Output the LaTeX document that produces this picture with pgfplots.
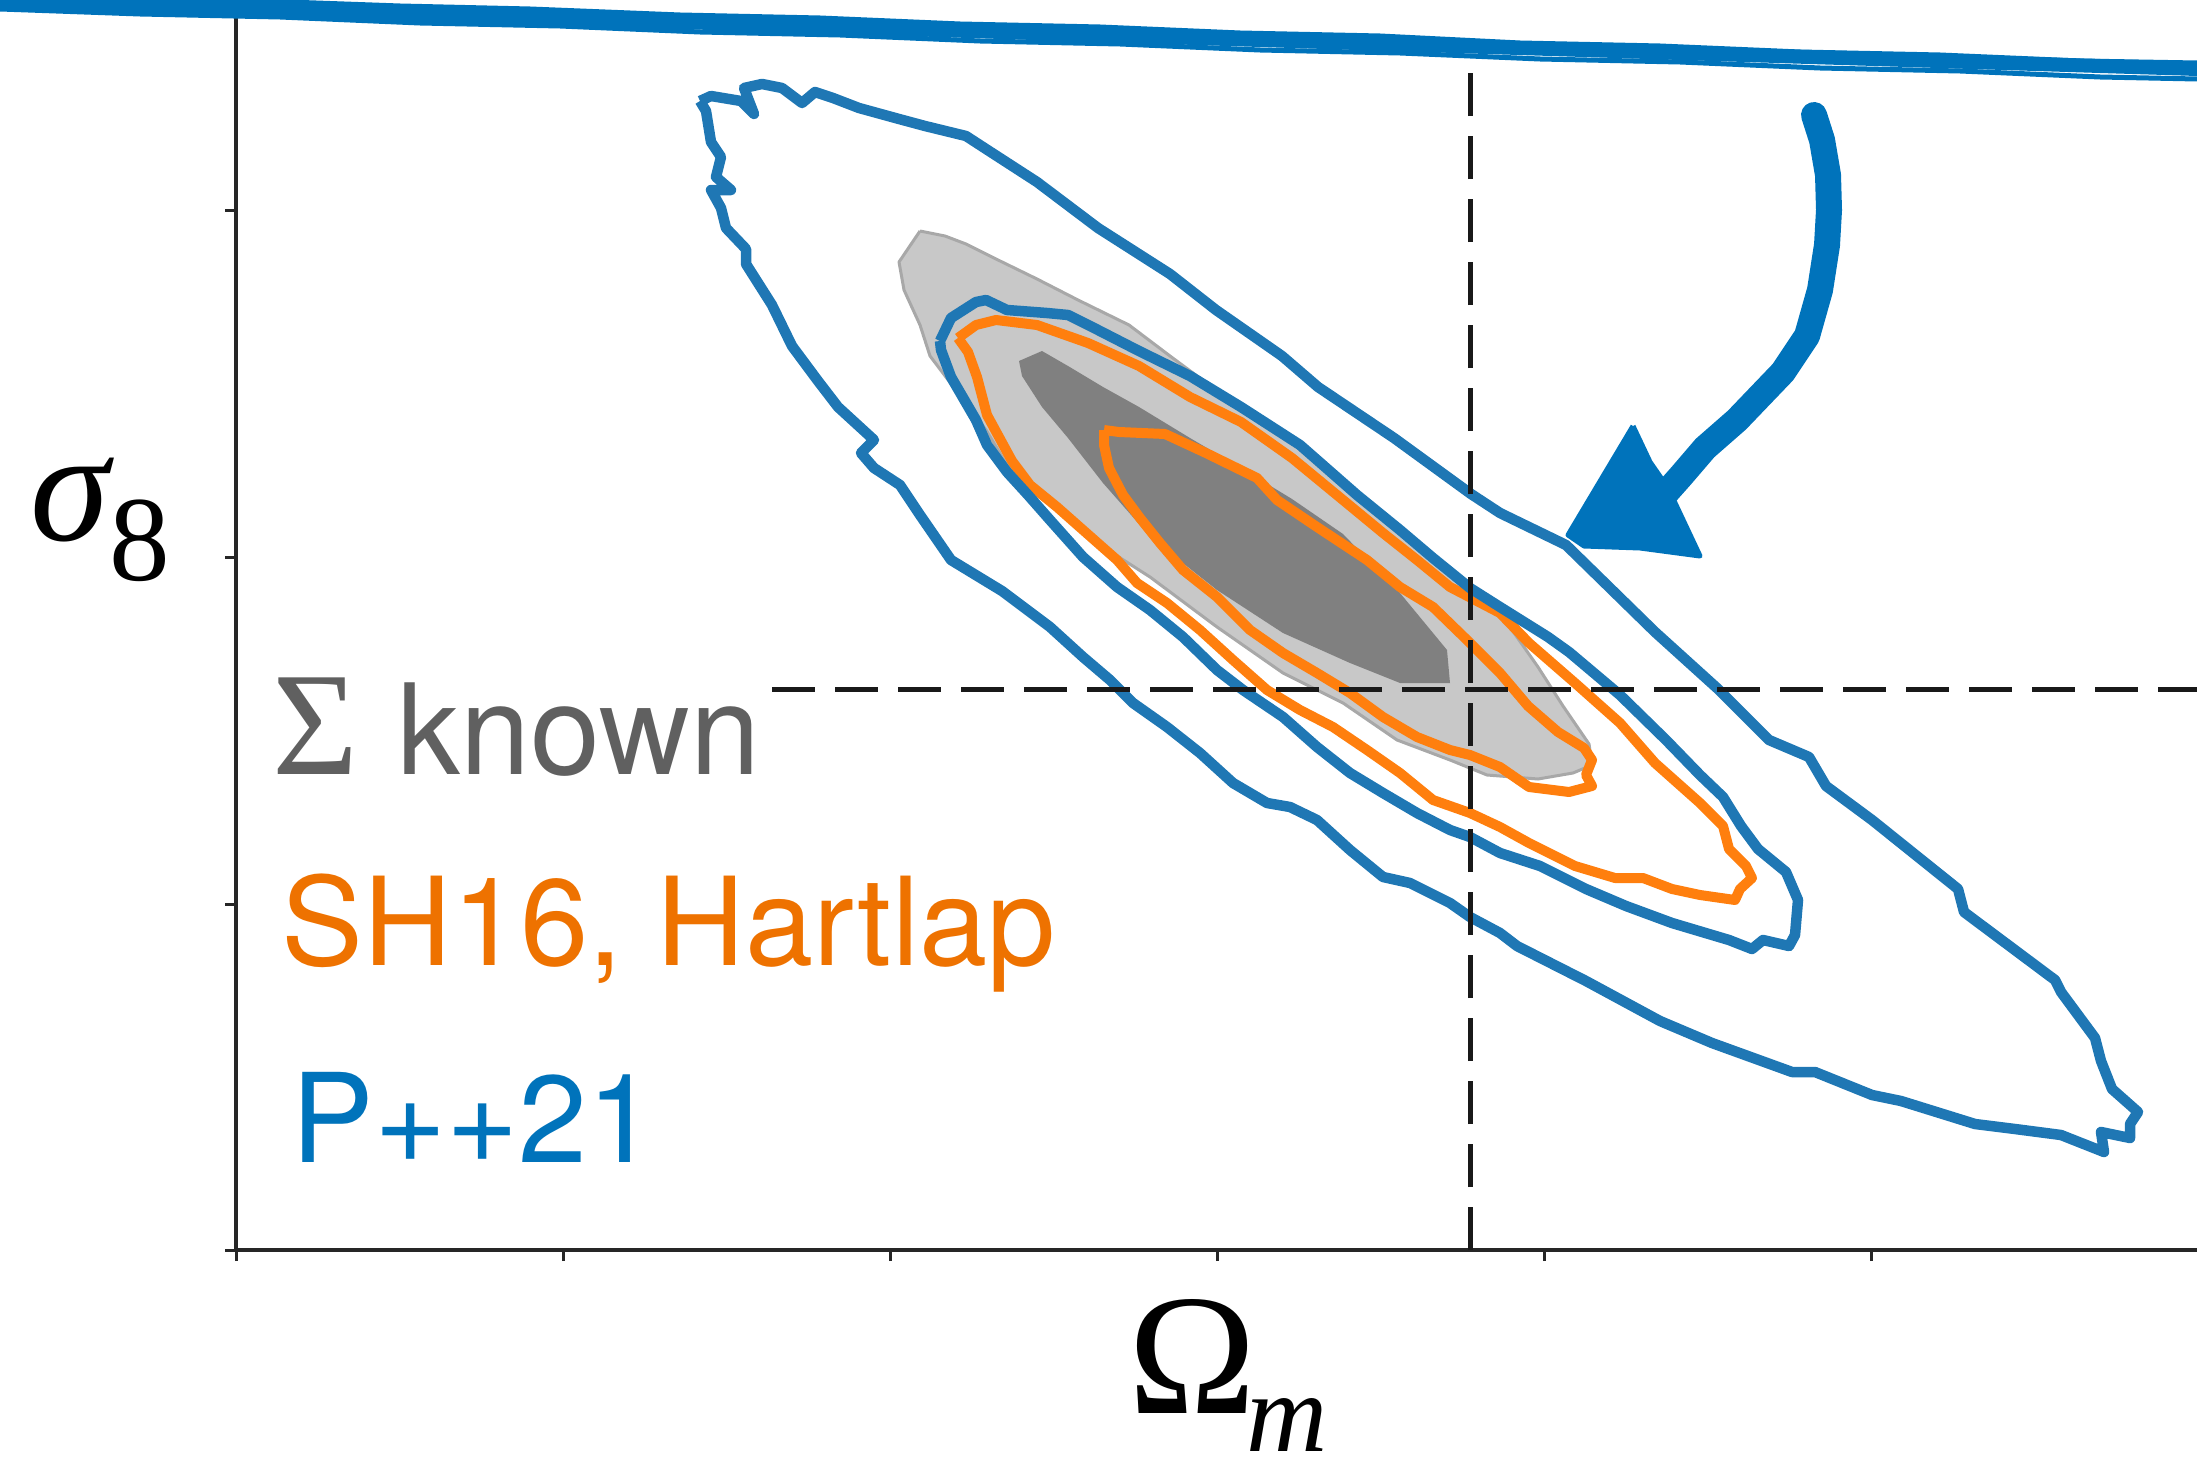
\documentclass[border=0pt]{standalone}
\usepackage{fontspec}
\usepackage{pgfplots}
\pgfplotsset{compat=1.18}
\setmainfont{TeX Gyre Heros}
\newfontfamily\serifL{Liberation Serif}
\definecolor{cBlue}{RGB}{31,119,180}
\definecolor{cOrange}{RGB}{255,127,14}
\definecolor{tBlue}{RGB}{0,115,187}
\definecolor{tOrange}{RGB}{238,114,0}
\definecolor{tGray}{RGB}{96,96,96}
\definecolor{lGray}{RGB}{200,200,200}
\definecolor{lEdge}{RGB}{168,168,168}
\definecolor{dGray}{RGB}{128,128,128}
\definecolor{scrib}{RGB}{0,115,187}
\begin{document}
\begin{tikzpicture}
\path[use as bounding box] (0,0) rectangle (219.7mm,145.8mm);
\clip (0,0) rectangle (219.7mm,145.8mm);
\begin{axis}[
  at={(23.6mm,20.8mm)}, anchor=south west,
  scale only axis, width=196.1mm, height=125mm,
  xmin=236, xmax=2197, ymin=0, ymax=1250, y dir=reverse,
  axis x line*=bottom, axis y line*=left,
  axis line style={black!85, line width=0.35mm},
  xtick={236,563,890,1217,1544,1871}, ytick={210,557,904,1250},
  xticklabels={}, yticklabels={},
  tick align=outside, major tick length=1.1mm,
  tick style={black!85, line width=0.3mm},
  clip=false, no markers,
  xlabel={\serifL\fontsize{49}{50}\selectfont Ω\kern-1mm\raisebox{-3.8mm}{\fontsize{32}{33}\selectfont\itshape m}},
  every axis x label/.style={at={(axis cs:1128,1413)}, anchor=base west, inner sep=0pt},
  ylabel={\serifL\fontsize{45.5}{46}\selectfont{\itshape σ}\raisebox{-4mm}{\fontsize{34.5}{35}\selectfont 8}},
  every axis y label/.style={at={(axis cs:30,540)}, anchor=base west, inner sep=0pt},
]
% Sigma known, 95% region (light gray)
\addplot[fill=lGray, draw=lEdge, line width=0.3mm, line join=round] coordinates {
(920,231)(945,236)(966,244)(996,259)(1037,279)(1078,300)(1129,325)(1170,356)(1216,390)(1260,418)(1300,445)(1357,495)(1400,530)(1433,558)(1470,590)(1500,612)(1512,630)(1538,667)(1563,706)(1589,744)(1592,765)(1573,773)(1538,779)(1487,775)(1450,760)(1397,740)(1343,703)(1283,673)(1217,627)(1150,577)(1100,545)(1057,510)(1037,495)(1007,465)(986,430)(955,389)(930,356)(920,325)(904,290)(899,262)(920,231)
};
% Sigma known, 68% region (dark gray)
\addplot[fill=dGray, draw=none] coordinates {
(1019,361)(1042,351)(1068,366)(1103,387)(1139,407)(1190,438)(1241,468)(1292,499)(1343,534)(1400,593)(1433,633)(1447,650)(1450,683)(1400,683)(1350,663)(1283,633)(1217,590)(1160,545)(1139,524)(1103,483)(1068,438)(1042,407)(1022,376)(1019,361)
};
% SH16, Hartlap 95%
\addplot[cOrange, line width=1.0mm, line join=round] coordinates {
(958,338)(976,325)(996,320)(1037,325)(1088,343)(1139,366)(1190,397)(1241,422)(1292,458)(1343,500)(1383,533)(1417,560)(1450,587)(1500,613)(1529,643)(1575,683)(1620,723)(1655,763)(1700,803)(1723,826)(1729,849)(1746,866)(1752,878)(1740,889)(1735,900)(1700,895)(1672,889)(1643,878)(1615,878)(1575,866)(1529,843)(1500,827)(1470,813)(1433,800)(1400,773)(1367,750)(1333,727)(1300,710)(1267,690)(1233,660)(1200,630)(1167,603)(1137,583)(1117,560)(1083,530)(1057,507)(1030,485)(1012,461)(987,415)(977,377)(968,352)(958,338)
};
% SH16, Hartlap 68%
\addplot[cOrange, line width=1.0mm, line join=round] coordinates {
(1104,430)(1119,432)(1165,434)(1206,453)(1257,478)(1277,500)(1317,527)(1367,560)(1400,587)(1433,607)(1467,640)(1500,673)(1528,706)(1558,732)(1584,748)(1592,760)(1586,775)(1592,786)(1569,792)(1529,787)(1500,767)(1470,755)(1450,750)(1417,737)(1383,717)(1350,693)(1317,673)(1283,653)(1250,630)(1217,597)(1183,570)(1160,543)(1140,518)(1123,495)(1109,468)(1104,445)(1104,430)
};
% P++21 68%
\addplot[cBlue, line width=1.05mm, line join=round] coordinates {
(940,341)(951,318)(976,302)(986,300)(1007,310)(1047,313)(1068,315)(1098,330)(1139,351)(1190,376)(1241,407)(1300,445)(1357,495)(1400,530)(1433,558)(1470,588)(1500,607)(1548,637)(1569,652)(1620,695)(1666,740)(1700,775)(1723,797)(1741,826)(1758,849)(1786,872)(1798,900)(1795,935)(1789,946)(1763,940)(1752,949)(1729,940)(1672,923)(1626,906)(1586,889)(1540,866)(1500,853)(1470,837)(1450,830)(1417,813)(1383,793)(1350,773)(1317,747)(1283,717)(1243,690)(1217,670)(1183,637)(1150,610)(1117,587)(1083,557)(1050,520)(1028,495)(1007,472)(987,445)(976,420)(951,377)(941,350)(940,341)
};
% P++21 95%
\addplot[cBlue, line width=1.05mm, line join=round] coordinates {
(700,101)(711,96)(741,101)(754,114)(744,88)(762,84)(782,88)(802,103)(815,92)(833,98)(859,108)(899,119)(925,126)(966,136)(986,149)(1037,182)(1098,228)(1170,274)(1216,310)(1282,356)(1318,387)(1394,438)(1471,494)(1500,513)(1566,545)(1655,632)(1718,689)(1769,740)(1809,757)(1826,786)(1872,820)(1958,889)(1964,912)(2055,980)(2061,992)(2095,1038)(2101,1061)(2112,1089)(2138,1112)(2130,1124)(2130,1138)(2101,1132)(2104,1152)(2061,1135)(2015,1129)(1975,1124)(1901,1101)(1872,1095)(1815,1072)(1792,1072)(1712,1043)(1660,1021)(1586,981)(1517,946)(1500,933)(1470,917)(1450,903)(1410,883)(1383,877)(1350,850)(1317,820)(1290,807)(1267,803)(1233,783)(1200,753)(1167,727)(1133,703)(1110,680)(1083,657)(1050,627)(1002,591)(951,560)(920,515)(900,485)(874,468)(861,453)(874,440)(838,407)(818,381)(792,346)(772,305)(746,264)(746,249)(726,228)(721,208)(711,190)(731,190)(716,177)(721,157)(711,142)(706,111)(700,101)
};
% fiducial values
\addplot[black!90, line width=0.5mm, dash pattern=on 4.3mm off 2.0mm] coordinates {(1470,1250) (1470,52)};
\addplot[black!90, line width=0.5mm, dash pattern=on 4.3mm off 2.0mm] coordinates {(772,689) (2197,689)};
% hand-drawn annotation
\addplot[scrib, line width=1.4mm, line cap=round] coordinates {(0,1) (2197,69)};
\addplot[scrib, line width=0.5mm] coordinates {(0,-7)(120,-3)(260,1)(400,6)(530,9)(680,15)(820,18)(960,24)(1100,27)(1240,33)(1380,36)(1520,43)(1660,46)(1800,52)(1940,55)(2080,61)(2197,63)};
\addplot[scrib, line width=0.5mm] coordinates {(0,9)(140,14)(280,17)(420,23)(560,26)(700,32)(840,35)(980,41)(1120,44)(1260,50)(1400,53)(1540,59)(1680,62)(1820,68)(1960,71)(2100,77)(2197,79)};
\addplot[scrib, line width=2.6mm, line cap=round, line join=round] coordinates {(1814,115)(1822,140)(1828,175)(1829,210)(1827,245)(1820,290)(1807,336)(1783,372)(1760,396)(1737,420)(1705,448)(1681,476)(1665,494)};
\addplot[scrib, fill=scrib, line width=0.5mm, line join=round] coordinates {(1633,426)(1650,462)(1668,488)(1700,556)(1640,548)(1584,546)(1568,535)(1633,426)};
% labels
\node[anchor=base west, inner sep=0pt, text=tGray] at (axis cs:272,774) {\serifL\fontsize{42}{42}\selectfont Σ};
\node[anchor=base west, inner sep=0pt, text=tGray] at (axis cs:397,774) {\fontsize{35.8}{40}\selectfont known};
\node[anchor=base west, inner sep=0pt, text=tOrange] at (axis cs:281,965) {\fontsize{34.9}{40}\selectfont SH16, Hartlap};
\node[anchor=base west, inner sep=0pt, text=tBlue] at (axis cs:291,1162) {\fontsize{35.2}{40}\selectfont P++21};
\end{axis}
\end{tikzpicture}
\end{document}
